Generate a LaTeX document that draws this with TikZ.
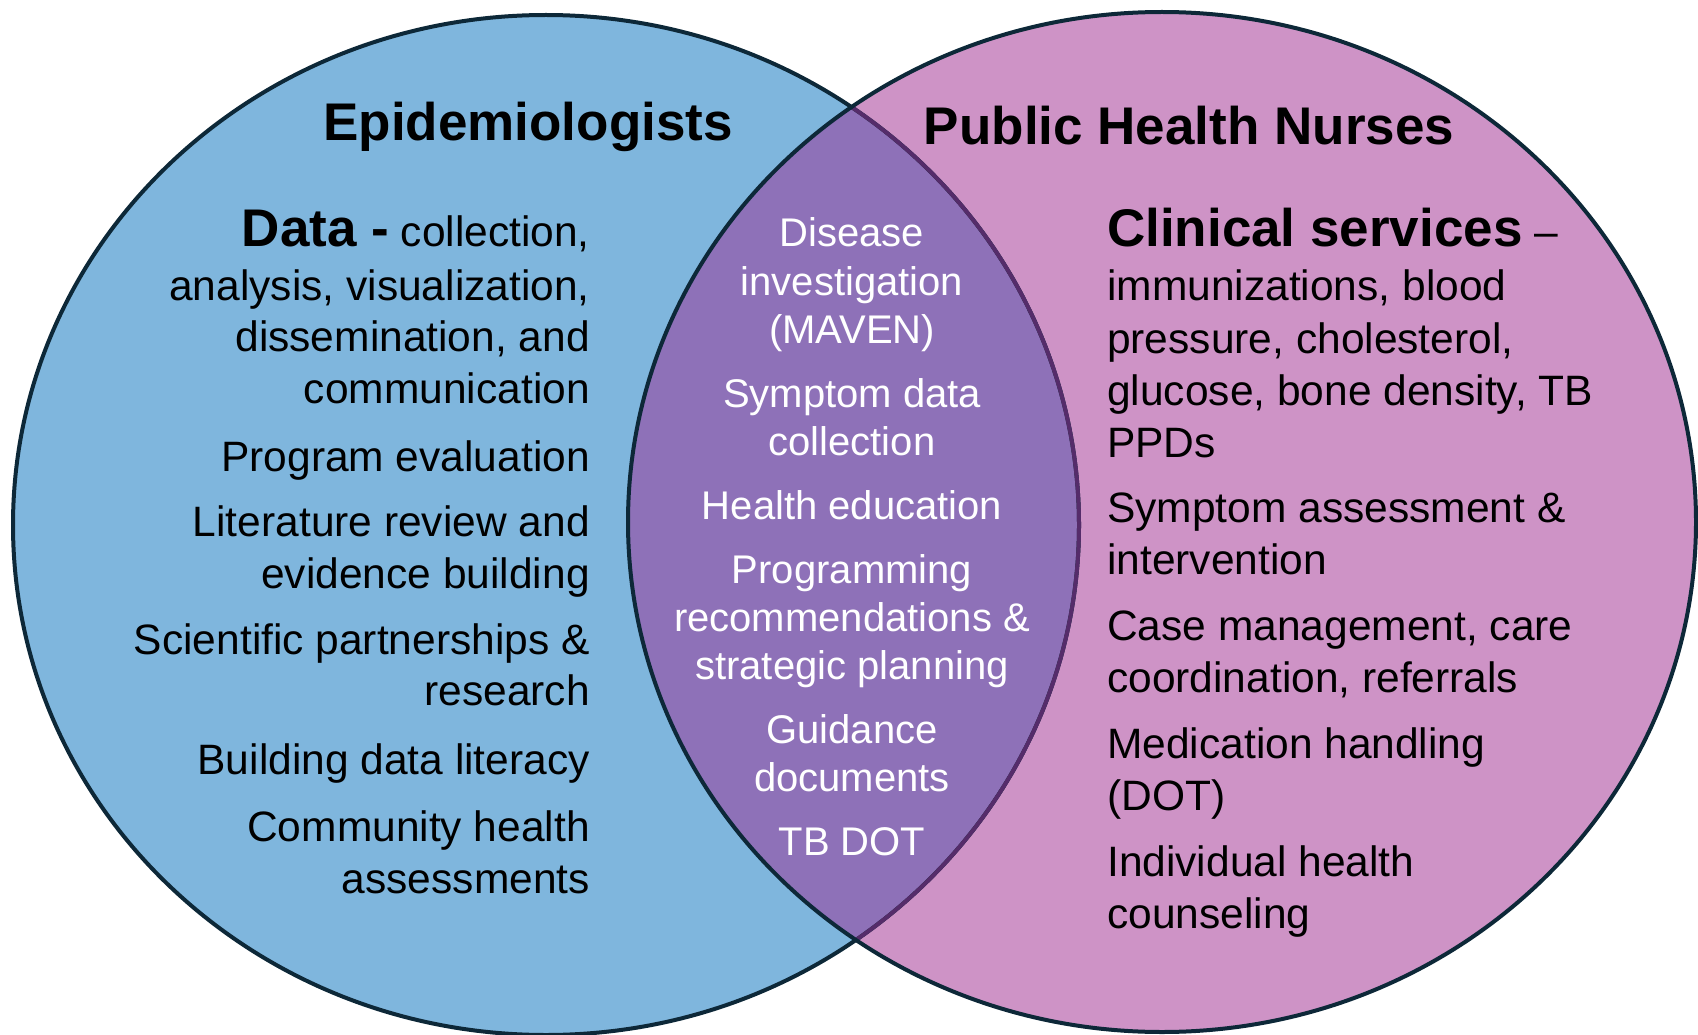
\documentclass[tikz,border=0pt]{standalone}
\usepackage{fontspec}
\setmainfont{Liberation Sans}
\definecolor{epiblue}{HTML}{7FB6DD}
\definecolor{nursepink}{HTML}{CE93C6}
\definecolor{overlap}{HTML}{8E71B8}
\definecolor{rimnavy}{HTML}{0D2838}
\definecolor{rimpurple}{HTML}{552C6A}
\tikzset{
rim/.style={line width=4pt, draw=rimnavy},
heading/.style={anchor=base, inner sep=0pt, font=\bfseries\fontsize{53}{60}\selectfont},
lefttxt/.style={anchor=base east, inner sep=0pt, font=\fontsize{42.5}{52}\selectfont},
midtxt/.style={anchor=base, inner sep=0pt, text=white, font=\fontsize{40}{48}\selectfont},
righttxt/.style={anchor=base west, inner sep=0pt, font=\fontsize{42.5}{52}\selectfont}
}
\begin{document}
\begin{tikzpicture}[x=1pt, y=-1pt]
\useasboundingbox (0,0) rectangle (1698,1035);
\coordinate (epiC) at (546,525);
\coordinate (phnC) at (1162,522);
\fill[epiblue] (epiC) ellipse [x radius=533, y radius=510];
\fill[nursepink] (phnC) ellipse [x radius=534, y radius=510];
\begin{scope}
\clip (epiC) ellipse [x radius=533, y radius=510];
\fill[overlap] (phnC) ellipse [x radius=534, y radius=510];
\end{scope}
\draw[rim] (epiC) ellipse [x radius=533, y radius=510];
\begin{scope}
\clip (phnC) ellipse [x radius=534, y radius=510];
\draw[rim, draw=rimpurple] (epiC) ellipse [x radius=533, y radius=510];
\end{scope}
\draw[rim] (phnC) ellipse [x radius=534, y radius=510];
\node[heading] (epi) at (528,141) {Epidemiologists};
\node[heading] (phn) at (1189,145) {Public Health Nurses};
\node[lefttxt] (data) at (590,247) {{\bfseries\fontsize{53}{52}\selectfont Data -} collection,};
\foreach \yy/\txt [count=\i] in {300/{analysis, visualization,}, 351/{dissemination, and}, 403/communication, 471/Program evaluation, 536/Literature review and, 588/evidence building, 654/Scientific partnerships \&, 705/research, 774/Building data literacy, 841/Community health, 893/assessments}
\node[lefttxt] (epi\i) at (590,\yy) {\txt};
\foreach \yy/\txt [count=\i] in {247/Disease, 295/investigation, 343/(MAVEN), 407/Symptom data, 455/collection, 519/Health education, 583/Programming, 631/recommendations \&, 679/strategic planning, 743/Guidance, 791/documents, 855/TB DOT}
\node[midtxt] (mid\i) at (852,\yy) {\txt};
\node[righttxt] (clin) at (1107,247) {{\bfseries\fontsize{53}{52}\selectfont Clinical services} --};
\foreach \yy/\txt [count=\i] in {301/{immunizations, blood}, 353/{pressure, cholesterol,}, 405/{glucose, bone density, TB}, 457/PPDs, 522/Symptom assessment \&, 574/intervention, 640/{Case management, care}, 692/{coordination, referrals}, 758/Medication handling, 810/(DOT), 876/Individual health, 928/counseling}
\node[righttxt] (phn\i) at (1107,\yy) {\txt};
\end{tikzpicture}
\end{document}
